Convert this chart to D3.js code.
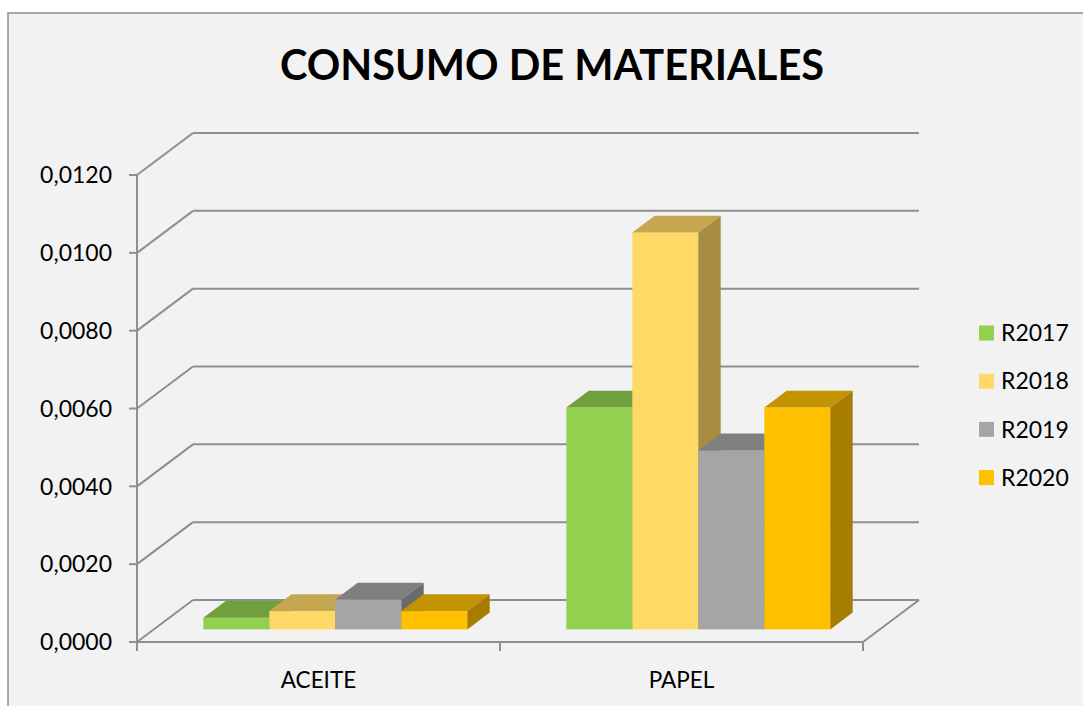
<!DOCTYPE html>
<html>
<head>
<meta charset="utf-8">
<script src="https://cdn.jsdelivr.net/npm/d3@7/dist/d3.min.js"></script>
<style>
  html, body { margin: 0; padding: 0; background: #ffffff; }
  svg { display: block; }
  text { font-family: Lato, "Open Sans", sans-serif; fill: #000; }
</style>
</head>
<body>
<svg id="chart" width="1083" height="706"></svg>
<script>
// ---- data ----
const title = "CONSUMO DE MATERIALES";
const categories = ["ACEITE", "PAPEL"];
const seriesNames = ["R2017", "R2018", "R2019", "R2020"];
const r2017 = [0.0003, 0.0057];
const r2018 = [0.00047, 0.0102];
const r2019 = [0.00077, 0.0046];
const r2020 = [0.00047, 0.0057];
const seriesValues = [r2017, r2018, r2019, r2020];
const yTicks = [0, 0.002, 0.004, 0.006, 0.008, 0.010, 0.012];
const yTickLabels = ["0,0000", "0,0020", "0,0040", "0,0060", "0,0080", "0,0100", "0,0120"];
const frontColors = ["#92d050", "#ffd966", "#a5a5a5", "#ffc000"];

// ---- layout ----
const svg = d3.select("#chart");
const plot = { left: 137, right: 863, top: 175, bottom: 642 };
const depth = { dx: 56, dy: -42 };       // full floor depth
const f1 = 0.3, f2 = 0.7;                // bar depth range (gap depth 150%)

const x = d3.scaleBand().domain(categories).range([plot.left, plot.right]).paddingInner(0).paddingOuter(0);
const xs = d3.scaleBand().domain(seriesNames).range([0, x.bandwidth()]).paddingInner(0).paddingOuter(0.75);
const y = d3.scaleLinear().domain([0, 0.012]).range([plot.bottom, plot.top]);

const shade = (c, k) => { const r = d3.rgb(c); return d3.rgb(r.r * k, r.g * k, r.b * k).formatHex(); };

// background + border
svg.append("rect").attr("x", 8).attr("y", 13).attr("width", 1100).attr("height", 720)
  .attr("fill", "#f2f2f2").attr("stroke", "#8c8c8c").attr("stroke-width", 1.5);

// title
svg.append("text").attr("x", 552).attr("y", 80).attr("text-anchor", "middle")
  .style("font-size", "41.5px").style("font-weight", "bold").text(title);

const gridColor = "#8f8f8f";
const grid = svg.append("g").attr("stroke", gridColor).attr("stroke-width", 2).attr("fill", "none");

// back wall gridlines + left side wall diagonals
yTicks.forEach(t => {
  const yf = y(t);
  grid.append("line").attr("x1", plot.left + depth.dx).attr("x2", plot.right + depth.dx)
    .attr("y1", yf + depth.dy).attr("y2", yf + depth.dy);
  grid.append("line").attr("x1", plot.left).attr("y1", yf)
    .attr("x2", plot.left + depth.dx).attr("y2", yf + depth.dy);
});
// floor right diagonal
grid.append("line").attr("x1", plot.right).attr("y1", plot.bottom)
  .attr("x2", plot.right + depth.dx).attr("y2", plot.bottom + depth.dy);

// axes (front)
const axisG = svg.append("g").attr("stroke", gridColor).attr("stroke-width", 2);
axisG.append("line").attr("x1", plot.left).attr("x2", plot.left).attr("y1", plot.top).attr("y2", plot.bottom);
axisG.append("line").attr("x1", plot.left).attr("x2", plot.right).attr("y1", plot.bottom).attr("y2", plot.bottom);
yTicks.forEach(t => {
  axisG.append("line").attr("x1", plot.left - 8).attr("x2", plot.left).attr("y1", y(t)).attr("y2", y(t));
});
const catEdges = [plot.left].concat(categories.map(c => x(c) + x.bandwidth()));
catEdges.forEach(e => {
  axisG.append("line").attr("x1", e).attr("x2", e).attr("y1", plot.bottom).attr("y2", plot.bottom + 9);
});

// y tick labels
svg.append("g").selectAll("text").data(yTicks).join("text")
  .attr("x", 112).attr("y", d => y(d)).attr("dy", "0.36em").attr("text-anchor", "end")
  .style("font-size", "23px").text((d, i) => yTickLabels[i]);

// category labels
svg.append("g").selectAll("text").data(categories).join("text")
  .attr("x", d => x(d) + x.bandwidth() / 2).attr("y", 688).attr("text-anchor", "middle")
  .style("font-size", "22.5px").text(d => d);

// bars (drawn left to right)
const bars = svg.append("g");
const bdx = (f2 - f1) * depth.dx, bdy = (f2 - f1) * depth.dy;
categories.forEach((cat, ci) => {
  seriesNames.forEach((s, si) => {
    const v = seriesValues[si][ci];
    const col = frontColors[si];
    const x0 = x(cat) + xs(s) + f1 * depth.dx;
    const w = xs.bandwidth();
    const yt = y(v) + f1 * depth.dy;
    const yb = y(0) + f1 * depth.dy;
    const g = bars.append("g");
    g.append("rect").attr("x", x0).attr("y", yt).attr("width", w).attr("height", yb - yt)
      .attr("fill", col);
    g.append("polygon").attr("points", [[x0, yt], [x0 + w, yt], [x0 + w + bdx, yt + bdy], [x0 + bdx, yt + bdy]].map(p => p.join(",")).join(" "))
      .attr("fill", shade(col, 0.77));
    g.append("polygon").attr("points", [[x0 + w, yt], [x0 + w + bdx, yt + bdy], [x0 + w + bdx, yb + bdy], [x0 + w, yb]].map(p => p.join(",")).join(" "))
      .attr("fill", shade(col, 0.65));
  });
});

// legend
const legend = svg.append("g").selectAll("g").data(seriesNames).join("g")
  .attr("transform", (d, i) => `translate(979, ${333 + i * 48.2})`);
legend.append("rect").attr("x", 0).attr("y", -7.5).attr("width", 15).attr("height", 15)
  .attr("fill", (d, i) => frontColors[i]);
legend.append("text").attr("x", 22).attr("y", 0).attr("dy", "0.36em")
  .style("font-size", "23px").text(d => d);
</script>
</body>
</html>
